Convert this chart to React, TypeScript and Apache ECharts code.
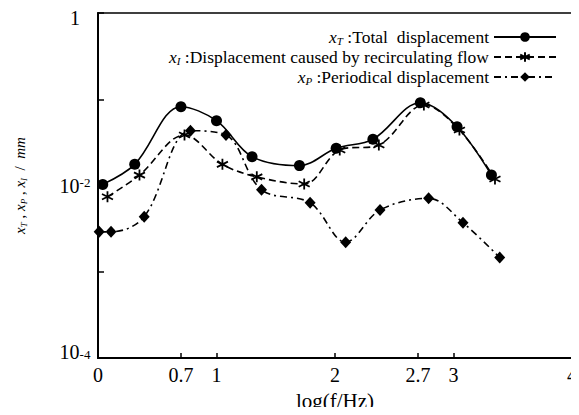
import React, { useEffect, useRef } from "react";
import * as echarts from "echarts";

const freqT = [0.04, 0.31, 0.7, 1.0, 1.3, 1.7, 2.01, 2.32, 2.72, 3.03, 3.32];
const valT = [0.0103, 0.0176, 0.082, 0.0564, 0.0216, 0.017, 0.027, 0.0343, 0.0912, 0.048, 0.0132];

const freqI = [0.08, 0.35, 0.73, 1.05, 1.34, 1.74, 2.04, 2.37, 2.75, 3.05, 3.35];
const valI = [0.0074, 0.0132, 0.0385, 0.0176, 0.0126, 0.0104, 0.0258, 0.0295, 0.0858, 0.044, 0.0119];

const freqP = [0.01, 0.11, 0.39, 0.78, 1.08, 1.38, 1.79, 2.09, 2.38, 2.79, 3.08, 3.39];
const valP = [0.0029, 0.0029, 0.00435, 0.0432, 0.0385, 0.0089, 0.0063, 0.0022, 0.0052, 0.0071, 0.0037, 0.00146];

const xTickLabels = [0, 0.7, 1, 2, 2.7, 3, 4];
const xTickMarks = [0.7, 1, 2, 2.7, 3];

const seriesNames = ["xT", "xI", "xP"];
const legendTexts: Record<string, string> = {
  xT: "{i|x}{s|T}{n| :Total  displacement}",
  xI: "{i|x}{s|I}{n| :Displacement caused by recirculating flow}",
  xP: "{i|x}{s|P}{n| :Periodical displacement}",
};

const FONT = "Liberation Serif";

const starPath = "path://M5 0L5 10M0.7 2.5L9.3 7.5M9.3 2.5L0.7 7.5";

export default function App() {
  const ref = useRef<HTMLDivElement>(null);
  useEffect(() => {
    const chart = echarts.init(ref.current!, null, { renderer: "svg" });
    const pair = (xs: number[], ys: number[]) => xs.map((x, i) => [x, ys[i]]);
    const LF = 17.5;
    chart.setOption({
      animation: false,
      backgroundColor: "#fff",
      grid: {
        left: 98,
        top: 13,
        right: 7,
        bottom: 57,
        show: true,
        borderColor: "#000",
        borderWidth: 1.5,
        containLabel: false,
        outerBoundsMode: "none",
      },
      legend: {
        orient: "vertical",
        align: "right",
        right: 17,
        top: 23,
        itemWidth: 62,
        itemHeight: 12,
        itemGap: 2,
        data: seriesNames,
        formatter: (name: string) => legendTexts[name],
        textStyle: {
          fontFamily: FONT,
          fontSize: LF,
          lineHeight: 18,
          color: "#000",
          rich: {
            i: { fontFamily: FONT, fontStyle: "italic", fontSize: LF, lineHeight: 18, color: "#000" },
            s: { fontFamily: FONT, fontStyle: "italic", fontSize: 11, lineHeight: 10, verticalAlign: "bottom", color: "#000" },
            n: { fontFamily: FONT, fontStyle: "normal", fontSize: LF, lineHeight: 18, color: "#000" },
          },
        },
      },
      xAxis: {
        type: "value",
        min: 0,
        max: 4,
        name: "log(f/Hz)",
        nameLocation: "middle",
        nameGap: 32,
        nameTextStyle: { fontFamily: FONT, fontSize: 21, lineHeight: 21, color: "#000" },
        axisLine: { lineStyle: { color: "#000", width: 2 } },
        axisTick: {
          inside: true,
          length: 5,
          customValues: xTickMarks,
          lineStyle: { color: "#000", width: 1.5 },
        },
        axisLabel: {
          customValues: xTickLabels,
          fontFamily: FONT,
          fontSize: 20,
          color: "#000",
          margin: 7,
          showMaxLabel: true,
          formatter: (v: number) => String(v),
        },
        splitLine: { show: false },
      },
      yAxis: {
        type: "log",
        logBase: 10,
        min: 1e-4,
        max: 1,
        interval: 1,
        name: "{i|x}{s|T}{n| , }{i|x}{s|P}{n| , }{i|x}{s|I}{n|  /  }{i|mm}",
        nameLocation: "middle",
        nameGap: 70,
        nameTextStyle: {
          fontFamily: FONT,
          fontSize: 15,
          color: "#000",
          rich: {
            i: { fontFamily: FONT, fontStyle: "italic", fontSize: 15, lineHeight: 17, color: "#000" },
            s: { fontFamily: FONT, fontStyle: "italic", fontSize: 9, lineHeight: 9, verticalAlign: "bottom", color: "#000" },
            n: { fontFamily: FONT, fontSize: 15, lineHeight: 17, color: "#000" },
          },
        },
        axisLine: { show: true, lineStyle: { color: "#000", width: 2 } },
        axisTick: { inside: true, length: 6, lineStyle: { color: "#000", width: 1.5 } },
        axisLabel: {
          fontFamily: FONT,
          fontSize: 20,
          color: "#000",
          margin: 23,
          align: "center",
          formatter: (v: number) => {
            const e = Math.round(Math.log10(v));
            if (e === 0) return "{t|1}";
            if (e % 2 !== 0) return "";
            if (e === -4) return "{u|10}{up|" + e + "}";
            return "{b|10}{p|" + e + "}";
          },
          rich: {
            t: { fontFamily: FONT, fontSize: 20, lineHeight: 20, padding: [10, 0, 0, 0], color: "#000" },
            b: { fontFamily: FONT, fontSize: 20, lineHeight: 20, color: "#000" },
            p: { fontFamily: FONT, fontSize: 13, lineHeight: 4, verticalAlign: "top", color: "#000" },
            u: { fontFamily: FONT, fontSize: 20, lineHeight: 20, padding: [0, 0, 12, 0], color: "#000" },
            up: { fontFamily: FONT, fontSize: 13, lineHeight: 4, verticalAlign: "top", color: "#000" },
          },
        },
        splitLine: { show: false },
      },
      series: [
        {
          name: "xT",
          type: "line",
          data: pair(freqT, valT),
          smooth: 0.35,
          symbol: "circle",
          symbolSize: 11,
          lineStyle: { color: "#000", width: 1.6, type: "solid" },
          itemStyle: { color: "#000" },
        },
        {
          name: "xI",
          type: "line",
          data: pair(freqI, valI),
          smooth: 0.35,
          symbol: starPath,
          symbolSize: 11,
          lineStyle: { color: "#000", width: 1.6, type: [7, 4] },
          itemStyle: { color: "#000", borderColor: "#000", borderWidth: 1.8 },
        },
        {
          name: "xP",
          type: "line",
          data: pair(freqP, valP),
          smooth: 0.35,
          symbol: "diamond",
          symbolSize: [11, 12],
          lineStyle: { color: "#000", width: 1.6, type: [7, 4, 2, 4] },
          itemStyle: { color: "#000" },
        },
      ],
    });
    return () => chart.dispose();
  }, []);
  return <div ref={ref} style={{ width: 579, height: 415, margin: -8 }} />;
}
